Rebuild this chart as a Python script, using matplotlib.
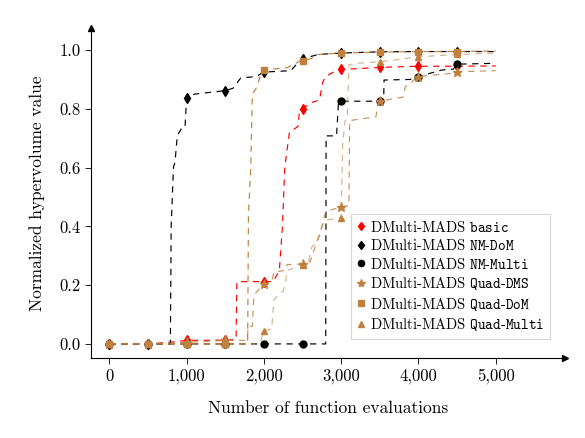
import numpy as np
import matplotlib
matplotlib.use("Agg")
import matplotlib.pyplot as plt
from matplotlib.lines import Line2D
from matplotlib.ticker import FuncFormatter

plt.rcParams['font.family'] = ['cmr10', 'DejaVu Serif']
plt.rcParams['mathtext.fontset'] = 'cm'
plt.rcParams['axes.unicode_minus'] = False
plt.rcParams['axes.formatter.use_mathtext'] = True
plt.rcParams['lines.scale_dashes'] = False

BROWN = '#bf8040'

# basic (red diamonds)
basic_x = [0, 500, 800, 1000, 1500, 1640, 1650, 2000, 2120, 2200, 2240, 2270, 2330, 2440,
           2460, 2500, 2600, 2720, 2760, 2800, 2900, 3000, 3500, 4000, 4500, 5000]
basic_y = [0, 0, 0.006, 0.012, 0.013, 0.015, 0.212, 0.212, 0.212, 0.25, 0.40, 0.60, 0.72, 0.74,
           0.79, 0.80, 0.82, 0.83, 0.89, 0.91, 0.925, 0.934, 0.941, 0.945, 0.945, 0.946]

# NM-DoM (black diamonds)
nmdom_x = [0, 500, 790, 800, 830, 850, 880, 950, 980, 1000, 1100, 1500, 1600, 1650, 1700,
           1900, 2000, 2350, 2450, 2500, 2700, 3000, 3500, 4000, 4500, 5000]
nmdom_y = [0, 0, 0, 0.40, 0.60, 0.62, 0.71, 0.74, 0.74, 0.838, 0.85, 0.862, 0.87, 0.887, 0.905,
           0.91, 0.925, 0.93, 0.96, 0.97, 0.985, 0.99, 0.994, 0.995, 0.995, 0.995]

# NM-Multi (black circles)
nmmulti_x = [0, 500, 1000, 1500, 2000, 2500, 2800, 2805, 2940, 2965, 3000, 3500, 3550, 3555,
             3890, 4000, 4300, 4450, 4500, 5000]
nmmulti_y = [0, 0, 0, 0, 0, 0, 0, 0.708, 0.708, 0.82, 0.826, 0.826, 0.83, 0.898,
             0.90, 0.91, 0.932, 0.935, 0.952, 0.955]

# Quad-DMS (brown stars)
qdms_x = [0, 500, 1000, 1500, 1780, 1800, 1850, 1870, 1900, 1950, 2000, 2100, 2130, 2280,
          2300, 2500, 2600, 2650, 2750, 2800, 3000, 3100, 3110, 3450, 3480, 3500, 3800, 3830,
          4000, 4400, 4500, 5000]
qdms_y = [0, 0, 0.005, 0.012, 0.012, 0.06, 0.06, 0.16, 0.175, 0.19, 0.205, 0.21, 0.245, 0.25,
          0.27, 0.272, 0.28, 0.32, 0.40, 0.45, 0.467, 0.47, 0.76, 0.773, 0.82, 0.826, 0.84, 0.875,
          0.91, 0.92, 0.926, 0.93]

# Quad-DoM (brown squares)
qdom_x = [0, 500, 1000, 1500, 1790, 1800, 1830, 1850, 1900, 1980, 2000, 2300, 2450, 2500,
          2650, 2700, 3000, 3500, 4000, 4500, 5000]
qdom_y = [0, 0, 0, 0, 0, 0.44, 0.60, 0.85, 0.87, 0.93, 0.932, 0.94, 0.96, 0.962,
          0.975, 0.985, 0.99, 0.993, 0.995, 0.995, 0.997]

# Quad-Multi (brown triangles)
qmulti_x = [0, 500, 1000, 1500, 1950, 2000, 2100, 2130, 2200, 2250, 2280, 2300, 2400, 2500,
            2580, 2620, 2700, 2780, 3000, 3020, 3050, 3080, 3100, 3200, 3500, 4000, 4500, 5000]
qmulti_y = [0, 0, 0, 0, 0, 0.045, 0.05, 0.15, 0.17, 0.18, 0.21, 0.25, 0.26, 0.27,
            0.28, 0.33, 0.35, 0.42, 0.43, 0.68, 0.76, 0.77, 0.95, 0.955, 0.96, 0.977, 0.985, 0.99]

series = [
    (basic_x, basic_y, 'red', 'd', r'DMulti-MADS $\mathtt{basic}$', 1.0),
    (nmdom_x, nmdom_y, 'black', 'd', r'DMulti-MADS $\mathtt{NM}$-$\mathtt{DoM}$', 1.0),
    (nmmulti_x, nmmulti_y, 'black', 'o', r'DMulti-MADS $\mathtt{NM}$-$\mathtt{Multi}$', 1.0),
    (qdms_x, qdms_y, BROWN, '*', r'DMulti-MADS $\mathtt{Quad}$-$\mathtt{DMS}$', 0.85),
    (qdom_x, qdom_y, BROWN, 's', r'DMulti-MADS $\mathtt{Quad}$-$\mathtt{DoM}$', 1.0),
    (qmulti_x, qmulti_y, BROWN, '^', r'DMulti-MADS $\mathtt{Quad}$-$\mathtt{Multi}$', 0.6),
]

fig = plt.figure(figsize=(5.85, 4.38), dpi=100)
ax = fig.add_axes([0.1556, 0.1826, 0.81, 0.7534])

handles = []
for xs, ys, col, mk, lab, a in series:
    xs = np.array(xs)
    ys = np.array(ys)
    marks = (xs % 500 == 0) & (xs < 5000)
    ax.plot(xs, ys, color=col, lw=0.85, dashes=(4.5, 4), alpha=a)
    ms = 6.5 if mk == '*' else 5
    ax.plot(xs[marks], ys[marks], ls='none', marker=mk, color=col, ms=ms, mec=col)
    handles.append(Line2D([], [], ls='none', marker=mk, color=col, ms=ms - 0.5, label=lab))

ax.set_xlim(-237, 5895)
ax.set_ylim(-0.048, 1.075)
ax.set_xticks([0, 1000, 2000, 3000, 4000, 5000])
ax.set_yticks([0, 0.2, 0.4, 0.6, 0.8, 1.0])
ax.xaxis.set_major_formatter(FuncFormatter(lambda v, p: f"{int(v):,}"))
ax.yaxis.set_major_formatter(FuncFormatter(lambda v, p: f"{v:.1f}"))
ax.tick_params(labelsize=12, direction='out', length=4, width=0.6)

for s in ['top', 'right']:
    ax.spines[s].set_visible(False)
for s in ['left', 'bottom']:
    ax.spines[s].set_linewidth(0.8)
ax.plot(1, 0, marker='>', color='black', ms=4, transform=ax.transAxes, clip_on=False)
ax.plot(0, 1, marker='^', color='black', ms=4, transform=ax.transAxes, clip_on=False)

ax.set_xlabel('Number of function evaluations', fontsize=12.5, labelpad=12)
ax.set_ylabel('Normalized hypervolume value', fontsize=12.5, labelpad=10)

leg = ax.legend(handles=handles, loc='lower right', bbox_to_anchor=(0.984, 0.036),
                fontsize=10.5, frameon=True, fancybox=False, edgecolor='#cccccc',
                handlelength=0.6, handletextpad=0.3, borderpad=0.4, labelspacing=0.24)
leg.get_frame().set_linewidth(0.8)

fig.savefig('out.png', dpi=100)
